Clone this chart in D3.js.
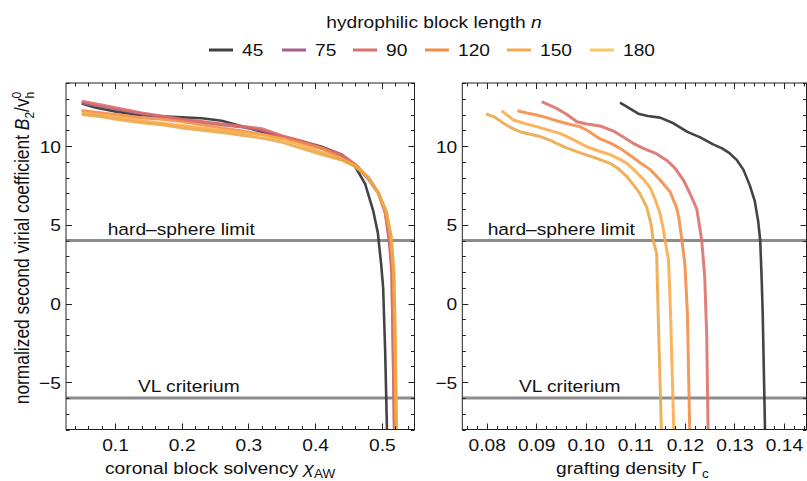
<!DOCTYPE html>
<html>
<head>
<meta charset="utf-8">
<script src="https://cdn.jsdelivr.net/npm/d3@7"></script>
<style>
  html, body { margin: 0; padding: 0; background: #fff; }
  svg text { font-family: "Liberation Sans", Arial, sans-serif; fill: #111; }
</style>
</head>
<body>
<svg id="chart" width="807" height="481"></svg>
<script>
// Hydrophilic block lengths and their colours
const blockLengths = [45, 75, 90, 120, 150, 180];
const legendColors = ["#404040", "#a65f8f", "#dd6f69", "#f38b45", "#f9a94b", "#fdc862"];
const lineColors   = ["#3a3a3a", "#a65f8f", "#dc6d66", "#f38b45", "#fbaa48", "#e9a647"];

// B2/v_h^0 versus coronal block solvency chi_AW  ([chi, B2])
const solvency45 = [[0.05,12.7],[0.07,12.45],[0.10,12.2],[0.13,12.0],[0.17,11.88],[0.20,11.82],[0.23,11.76],[0.26,11.6],[0.29,11.25],[0.32,10.9],[0.35,10.6],[0.38,10.3],[0.41,9.95],[0.44,9.45],[0.46,8.7],[0.475,7.6],[0.487,5.9],[0.494,4.5],[0.499,2.5],[0.502,1.0],[0.505,-3.0],[0.508,-8.5]];
const solvency75 = [[0.05,12.75],[0.08,12.5],[0.11,12.28],[0.14,12.05],[0.17,11.85],[0.20,11.65],[0.23,11.5],[0.26,11.35],[0.29,11.2],[0.32,11.0],[0.35,10.6],[0.38,10.25],[0.41,9.85],[0.44,9.4],[0.46,8.8],[0.48,7.9],[0.495,7.0],[0.505,5.8],[0.511,4.0],[0.515,2.0],[0.517,-3.0],[0.519,-8.5]];
const solvency90 = [[0.05,12.85],[0.08,12.6],[0.11,12.35],[0.14,12.1],[0.17,11.9],[0.20,11.7],[0.23,11.55],[0.26,11.4],[0.29,11.25],[0.32,11.1],[0.35,10.65],[0.38,10.3],[0.41,9.9],[0.44,9.45],[0.46,8.85],[0.48,7.95],[0.495,7.0],[0.505,5.8],[0.512,4.0],[0.515,2.0],[0.517,-3.0],[0.519,-8.5]];
const solvency120 = [[0.05,12.25],[0.08,12.1],[0.11,11.95],[0.14,11.8],[0.17,11.7],[0.20,11.55],[0.23,11.35],[0.26,11.15],[0.29,10.95],[0.32,10.75],[0.35,10.5],[0.38,10.2],[0.41,9.85],[0.44,9.2],[0.46,8.8],[0.48,8.0],[0.495,7.0],[0.505,5.9],[0.512,4.5],[0.517,2.0],[0.519,-2.0],[0.521,-8.5]];
const solvency150 = [[0.05,12.1],[0.08,11.95],[0.11,11.8],[0.14,11.6],[0.17,11.45],[0.20,11.3],[0.23,11.15],[0.26,11.0],[0.29,10.85],[0.32,10.7],[0.35,10.45],[0.38,10.05],[0.41,9.6],[0.44,9.15],[0.46,8.75],[0.48,8.0],[0.495,7.0],[0.507,5.8],[0.514,4.2],[0.518,2.0],[0.52,-2.0],[0.522,-8.5]];
const solvency180 = [[0.05,12.0],[0.08,11.85],[0.11,11.65],[0.14,11.48],[0.17,11.35],[0.20,11.15],[0.23,11.0],[0.26,10.85],[0.29,10.68],[0.32,10.5],[0.35,10.25],[0.38,9.85],[0.41,9.45],[0.44,9.1],[0.46,8.7],[0.48,8.0],[0.495,7.0],[0.507,5.8],[0.514,4.2],[0.518,2.0],[0.52,-2.0],[0.522,-8.5]];

// B2/v_h^0 versus grafting density Gamma_c  ([Gamma, B2])
const grafting45 = [[0.1069,12.75],[0.1106,12.05],[0.1125,11.9],[0.115,11.8],[0.1177,11.44],[0.1205,10.9],[0.1231,10.55],[0.1257,10.1],[0.1275,9.85],[0.129,9.55],[0.1305,9.1],[0.1318,8.5],[0.1331,7.5],[0.1341,6.5],[0.1348,5.2],[0.1352,4.0],[0.1355,1.5],[0.1357,-0.6],[0.1362,-8.5]];
const grafting90 = [[0.0911,12.82],[0.0941,12.39],[0.0962,12.0],[0.0982,11.54],[0.1002,11.4],[0.1029,11.27],[0.1056,10.95],[0.1069,10.7],[0.1096,10.17],[0.1116,9.85],[0.114,9.55],[0.1163,9.1],[0.118,8.6],[0.1197,7.84],[0.121,7.0],[0.1224,6.0],[0.1228,5.2],[0.1234,4.0],[0.124,1.7],[0.1244,-2.0],[0.1247,-8.5]];
const grafting120 = [[0.0862,12.24],[0.0881,12.1],[0.0901,11.97],[0.0921,11.8],[0.0941,11.6],[0.0965,11.4],[0.0988,11.23],[0.1005,10.95],[0.1029,10.45],[0.1049,10.2],[0.1069,9.85],[0.109,9.4],[0.1109,8.95],[0.113,8.5],[0.115,7.84],[0.117,7.1],[0.1183,6.1],[0.1188,5.4],[0.1194,4.0],[0.12,2.5],[0.1205,-0.6],[0.121,-8.5]];
const grafting150 = [[0.083,12.24],[0.0854,11.65],[0.0878,11.42],[0.0901,11.23],[0.0925,11.0],[0.0948,10.8],[0.0975,10.4],[0.1002,9.95],[0.1025,9.7],[0.1049,9.45],[0.1069,9.15],[0.1083,8.9],[0.11,8.4],[0.1116,7.9],[0.113,7.35],[0.114,6.6],[0.115,5.7],[0.1156,4.8],[0.116,4.0],[0.1167,2.75],[0.1171,-0.6],[0.1178,-8.5]];
const grafting180 = [[0.0799,12.03],[0.0815,11.85],[0.0834,11.44],[0.085,11.15],[0.0867,10.91],[0.0888,10.75],[0.0908,10.6],[0.0925,10.4],[0.0941,10.17],[0.096,9.9],[0.0982,9.64],[0.1002,9.42],[0.1022,9.22],[0.1049,8.9],[0.1066,8.55],[0.1083,8.05],[0.1097,7.5],[0.1109,6.99],[0.1123,6.1],[0.1132,5.0],[0.1136,4.0],[0.1143,3.18],[0.1146,-0.6],[0.1153,-8.5]];

// Reference levels
const hardSphereLimit = 4;
const vlCriterium = -6;

// Tick values
const yTicks = [-5, 0, 5, 10];
const solvencyTicks = [0.1, 0.2, 0.3, 0.4, 0.5];
const graftingTicks = [0.08, 0.09, 0.10, 0.11, 0.12, 0.13, 0.14];

const svg = d3.select("#chart");
const FS = 17;        // base font size
const SX = 1.13;      // horizontal glyph widening used for all text

// text placed at (x, y) with glyphs widened horizontally
function label(parent, x, y, anchor, size) {
  return parent.append("text")
    .attr("transform", `translate(${x},${y}) scale(${SX},1)`)
    .attr("text-anchor", anchor || "start")
    .attr("font-size", size || FS);
}

const yDomain = [-8, 14];
const plotTop = 83, plotBottom = 429.5;

const panels = [
  {
    id: "solv",
    xDomain: [0.02653, 0.549], left: 66, right: 414.5,
    ticks: solvencyTicks, minorStep: 0.02, fmt: d3.format(".1f"),
    series: [
      {n: 45, data: solvency45}, {n: 75, data: solvency75}, {n: 90, data: solvency90},
      {n: 120, data: solvency120}, {n: 150, data: solvency150}, {n: 180, data: solvency180}
    ],
    hsLabelX: 0.089, vlLabelX: 0.1345
  },
  {
    id: "graft",
    xDomain: [0.07508, 0.14454], left: 462.3, right: 806.5,
    ticks: graftingTicks, minorStep: 0.002, fmt: d3.format(".2f"),
    series: [
      {n: 45, data: grafting45}, {n: 90, data: grafting90}, {n: 120, data: grafting120},
      {n: 150, data: grafting150}, {n: 180, data: grafting180}
    ],
    hsLabelX: 0.0802, vlLabelX: 0.0865
  }
];

const y = d3.scaleLinear().domain(yDomain).range([plotBottom, plotTop]);
const yMinor = d3.range(-8, 14.001, 1);

panels.forEach(p => {
  const x = d3.scaleLinear().domain(p.xDomain).range([p.left, p.right]);
  const g = svg.append("g");
  const w = p.right - p.left, h = plotBottom - plotTop;

  svg.append("clipPath").attr("id", "clip-" + p.id)
    .append("rect").attr("x", p.left).attr("y", plotTop).attr("width", w).attr("height", h);

  const plot = g.append("g").attr("clip-path", `url(#clip-${p.id})`);

  // reference lines
  [hardSphereLimit, vlCriterium].forEach(v => {
    plot.append("line")
      .attr("x1", p.left).attr("x2", p.right)
      .attr("y1", y(v)).attr("y2", y(v))
      .attr("stroke", "#8c8c8c").attr("stroke-width", 3);
  });

  // curves
  const line = d3.line().x(d => x(d[0])).y(d => y(d[1])).curve(d3.curveLinear);
  p.series.forEach(s => {
    const i = blockLengths.indexOf(s.n);
    plot.append("path")
      .datum(s.data)
      .attr("d", line)
      .attr("fill", "none")
      .attr("stroke", lineColors[i])
      .attr("stroke-width", s.n === 45 ? 2.6 : 3)
      .attr("stroke-opacity", s.n === 45 ? 0.95 : 0.88)
      .attr("stroke-linejoin", "round")
      .attr("stroke-linecap", "butt");
  });

  // reference labels
  label(g, x(p.hsLabelX), y(hardSphereLimit) - 6).text("hard\u2013sphere limit");
  label(g, x(p.vlLabelX), y(vlCriterium) - 6).text("VL criterium");

  // frame
  g.append("rect").attr("x", p.left).attr("y", plotTop).attr("width", w).attr("height", h)
    .attr("fill", "none").attr("stroke", "#222").attr("stroke-width", 1);

  // x ticks (bottom and top, inward)
  const xMinor = d3.range(Math.ceil(p.xDomain[0] / p.minorStep) * p.minorStep, p.xDomain[1], p.minorStep);
  const isMajor = v => p.ticks.some(t => Math.abs(t - v) < p.minorStep / 10);
  xMinor.forEach(v => {
    const len = isMajor(v) ? 6 : 3.5;
    const xx = Math.round(x(v)) + 0.5;
    g.append("line").attr("x1", xx).attr("x2", xx).attr("y1", plotBottom).attr("y2", plotBottom - len).attr("stroke", "#222");
    g.append("line").attr("x1", xx).attr("x2", xx).attr("y1", plotTop).attr("y2", plotTop + len).attr("stroke", "#222");
  });
  const xAxis = d3.axisBottom(x).tickValues(p.ticks).tickFormat(p.fmt).tickSize(0).tickPadding(0);
  const xa = g.append("g").attr("transform", `translate(0,${plotBottom})`).call(xAxis);
  xa.select(".domain").remove();
  xa.selectAll("text").attr("font-size", FS).attr("dy", null).attr("y", 0)
    .attr("transform", `translate(0,21) scale(${SX},1)`)
    .style("font-family", '"Liberation Sans", Arial, sans-serif').attr("fill", "#111");

  // y ticks (left and right, inward)
  yMinor.forEach(v => {
    const len = yTicks.includes(v) ? 6 : 3.5;
    const yy = Math.round(y(v)) + 0.5;
    g.append("line").attr("x1", p.left).attr("x2", p.left + len).attr("y1", yy).attr("y2", yy).attr("stroke", "#222");
    g.append("line").attr("x1", p.right).attr("x2", p.right - len).attr("y1", yy).attr("y2", yy).attr("stroke", "#222");
  });
  const yAxis = d3.axisLeft(y).tickValues(yTicks).tickFormat(d => d < 0 ? "\u2212" + Math.abs(d) : String(d)).tickSize(0).tickPadding(0);
  const ya = g.append("g").attr("transform", `translate(${p.left},0)`).call(yAxis);
  ya.select(".domain").remove();
  ya.selectAll("text").attr("font-size", FS).attr("x", 0).attr("dy", "0.36em")
    .attr("transform", `translate(-5,0) scale(${SX},1)`)
    .style("font-family", '"Liberation Sans", Arial, sans-serif').attr("fill", "#111");
});

// axis titles
const yTitle = svg.append("text")
  .attr("transform", `translate(29,248) rotate(-90) scale(1,${SX})`)
  .attr("text-anchor", "middle").attr("font-size", 17.4);
yTitle.append("tspan").text("normalized second virial coefficient ");
yTitle.append("tspan").attr("font-style", "italic").text("B");
yTitle.append("tspan").attr("font-size", 12).attr("dy", 4).text("2");
yTitle.append("tspan").attr("dy", -4).text("/v");
yTitle.append("tspan").attr("font-size", 12).attr("dy", -7).text("0");
yTitle.append("tspan").attr("font-size", 12).attr("dx", -6.7).attr("dy", 11).text("h");

const xTitle1 = label(svg, 105, 474);
xTitle1.append("tspan").text("coronal block solvency ");
xTitle1.append("tspan").attr("font-style", "italic").text("\u03c7");
xTitle1.append("tspan").attr("font-size", 12).attr("dy", 4).text("AW");

const xTitle2 = label(svg, 556, 474);
xTitle2.append("tspan").text("grafting density \u0393");
xTitle2.append("tspan").attr("font-size", 12).attr("dy", 4).text("c");

// legend
const legTitle = label(svg, 434, 28, "middle");
legTitle.append("tspan").text("hydrophilic block length ");
legTitle.append("tspan").attr("font-style", "italic").text("n");

const legendX = [209, 282, 353, 425, 507, 590];
blockLengths.forEach((n, i) => {
  const lg = svg.append("g").attr("transform", `translate(${legendX[i]},50)`);
  lg.append("line").attr("x1", 0).attr("x2", 24).attr("y1", 0).attr("y2", 0)
    .attr("stroke", legendColors[i]).attr("stroke-width", 3);
  label(lg, 33, 6).text(n);
});
</script>
</body>
</html>
